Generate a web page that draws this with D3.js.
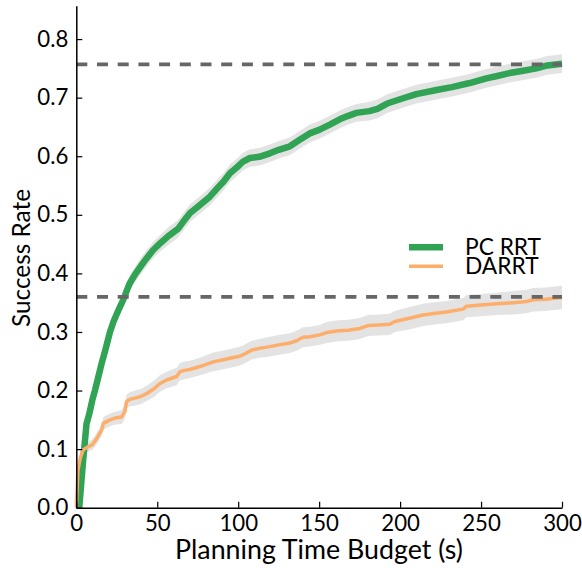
<!DOCTYPE html>
<html>
<head>
<meta charset="utf-8">
<script src="https://cdn.jsdelivr.net/npm/d3@7"></script>
<style>
  body { margin: 0; background: #fff; }
  svg text { font-family: Lato, "Noto Sans", sans-serif; fill: #000; }
</style>
</head>
<body>
<svg id="chart" width="582" height="568"></svg>
<script>
// [time (s), success rate, band half-width]
const pcRrt = [
  [1.8,0,0.003],[3,0.04,0.005],[4.2,0.08,0.006],[5.2,0.11,0.007],[6.3,0.143,0.008],[8,0.16,0.008],
  [10,0.185,0.009],[11.5,0.2,0.009],[13.5,0.222,0.01],[15.7,0.247,0.01],[18,0.27,0.011],[20.8,0.3,0.011],
  [23,0.318,0.012],[26,0.337,0.012],[28.5,0.352,0.012],[30,0.362,0.013],[31.5,0.373,0.013],[33,0.383,0.013],
  [36.2,0.398,0.013],[40,0.413,0.014],[43.5,0.426,0.014],[47.5,0.44,0.014],[52,0.452,0.014],[57,0.464,0.015],
  [62.8,0.476,0.015],[66,0.488,0.015],[70.3,0.503,0.015],[76,0.516,0.015],[82.5,0.531,0.015],[87,0.545,0.015],
  [91,0.557,0.015],[94.9,0.571,0.015],[100,0.583,0.015],[103,0.591,0.015],[107.2,0.597,0.015],[113,0.599,0.015],
  [119.6,0.605,0.015],[125,0.611,0.015],[131.9,0.617,0.015],[138,0.628,0.015],[144.2,0.639,0.015],[150,0.645,0.015],
  [156.6,0.654,0.015],[162.7,0.663,0.015],[168,0.669,0.015],[173,0.674,0.015],[181,0.677,0.016],[186,0.681,0.016],
  [192,0.69,0.016],[201.9,0.699,0.016],[210,0.706,0.016],[222.5,0.713,0.016],[232,0.718,0.016],[243,0.725,0.016],
  [253.3,0.733,0.016],[260,0.737,0.016],[267.7,0.742,0.016],[276,0.746,0.016],[284.2,0.75,0.016],[291,0.755,0.016],
  [300,0.758,0.016]
];
const darrt = [
  [0,0,0.002],[0.5,0.03,0.004],[1,0.064,0.005],[2.5,0.085,0.006],[4.3,0.099,0.007],[7.4,0.104,0.008],
  [10,0.108,0.009],[12.6,0.118,0.01],[15.7,0.133,0.01],[16.7,0.144,0.011],[20.8,0.15,0.011],[24,0.153,0.011],
  [28,0.155,0.012],[30,0.164,0.012],[31,0.181,0.012],[33,0.185,0.012],[36.2,0.187,0.013],[40,0.19,0.013],
  [43.5,0.195,0.013],[48,0.203,0.014],[51.7,0.212,0.014],[55.8,0.218,0.014],[62,0.224,0.015],[64,0.232,0.015],
  [66,0.234,0.015],[70,0.236,0.015],[76.4,0.241,0.015],[84.6,0.249,0.016],[90,0.252,0.016],[94.9,0.255,0.016],
  [100,0.258,0.016],[103,0.261,0.016],[108.3,0.269,0.016],[113,0.272,0.016],[119.6,0.275,0.017],[125,0.278,0.017],
  [131.9,0.281,0.017],[136,0.285,0.017],[140,0.291,0.017],[144.3,0.292,0.017],[150.4,0.295,0.017],[154.6,0.299,0.018],
  [162,0.302,0.018],[168,0.303,0.018],[175.1,0.306,0.018],[180.2,0.311,0.018],[187,0.312,0.018],[193.6,0.313,0.018],
  [196.7,0.318,0.018],[205,0.323,0.019],[214.2,0.329,0.019],[222,0.332,0.019],[228.6,0.334,0.019],[238.9,0.339,0.019],
  [241,0.344,0.019],[250,0.346,0.019],[259.5,0.348,0.019],[270,0.35,0.02],[278,0.352,0.02],[282.1,0.355,0.02],
  [290,0.356,0.02],[296.5,0.358,0.02],[300,0.359,0.02]
];
const refLevels = [0.757, 0.360];
const xTicks = [0, 50, 100, 150, 200, 250, 300];
const yTicks = [0.0, 0.1, 0.2, 0.3, 0.4, 0.5, 0.6, 0.7, 0.8];
const seriesNames = ["PC RRT", "DARRT"];

const fontFam = "Lato, 'Noto Sans', sans-serif";
const svg = d3.select("#chart");
const x = d3.scaleLinear().domain([0, 300]).range([76.3, 562]);
const y = d3.scaleLinear().domain([0, 0.857]).range([507.7, 5.7]);

// scale a text's font size so it spans the wanted width
function fitWidth(sel, width) {
  const node = sel.node();
  const size = parseFloat(sel.style("font-size"));
  const w = node.getComputedTextLength();
  if (w > 0) sel.style("font-size", (size * width / w).toFixed(2) + "px");
  return sel;
}

const series = [
  { name: seriesNames[0], data: pcRrt, color: "#31a354", width: 6.5 },
  { name: seriesNames[1], data: darrt, color: "#fdae6b", width: 3.5 }
];

// bands first
series.forEach(s => {
  const area = d3.area()
    .x(d => x(d[0]))
    .y0(d => y(d[1] - d[2]))
    .y1(d => y(d[1] + d[2]));
  svg.append("path").datum(s.data)
    .attr("d", area)
    .attr("fill", "#e3e3e3");
});

const line = d3.line().x(d => x(d[0])).y(d => y(d[1]));
series.forEach(s => {
  svg.append("path").datum(s.data)
    .attr("d", line)
    .attr("fill", "none")
    .attr("stroke", s.color)
    .attr("stroke-width", s.width)
    .attr("stroke-linejoin", "round");
});

// dashed reference levels
svg.selectAll(".ref").data(refLevels).enter().append("line")
  .attr("x1", x(0)).attr("x2", x(300))
  .attr("y1", d => y(d)).attr("y2", d => y(d))
  .attr("stroke", "#666")
  .attr("stroke-width", 3.8)
  .attr("stroke-dasharray", "11,9.7");

// tick font size from the width of "0.8" in the reference (~32px)
const probe = svg.append("text").style("font-family", fontFam).style("font-size", "24px").text("0.8");
fitWidth(probe, 31);
const tickSize = probe.style("font-size");
probe.remove();

// axes
const xAxis = d3.axisBottom(x).tickValues(xTicks).tickSizeInner(-6).tickSizeOuter(0).tickPadding(8)
  .tickFormat(d3.format("d"));
const yAxis = d3.axisLeft(y).tickValues(yTicks).tickSizeInner(-6).tickSizeOuter(0).tickPadding(8)
  .tickFormat(d3.format(".1f"));

const gx = svg.append("g").attr("transform", `translate(0,${y(0)})`).call(xAxis);
const gy = svg.append("g").attr("transform", `translate(${x(0)},0)`).call(yAxis);
[gx, gy].forEach(g => {
  g.attr("font-family", null).attr("font-size", null);
  g.select(".domain").attr("stroke", "#000").attr("stroke-width", 1.5);
  g.selectAll(".tick line").attr("stroke", "#000").attr("stroke-width", 1.2);
  g.selectAll(".tick text").style("font-size", tickSize).style("font-family", fontFam);
});

// axis labels
const xLabel = svg.append("text")
  .attr("x", 319).attr("y", 559)
  .attr("text-anchor", "middle")
  .style("font-family", fontFam)
  .style("font-size", "24px")
  .text("Planning Time Budget (s)");
fitWidth(xLabel, 288);
const yLabel = svg.append("text")
  .attr("transform", "translate(30,258) rotate(-90)")
  .attr("text-anchor", "middle")
  .style("font-family", fontFam)
  .style("font-size", "24px")
  .text("Success Rate");
fitWidth(yLabel, 138);

// legend
const legend = svg.append("g");
series.forEach((s, i) => {
  const ly = 247.3 + i * 19;
  legend.append("line")
    .attr("x1", 409).attr("x2", 443)
    .attr("y1", ly).attr("y2", ly)
    .attr("stroke", s.color)
    .attr("stroke-width", s.width);
  const t = legend.append("text")
    .attr("x", 465).attr("y", ly + 8)
    .style("font-family", fontFam)
    .style("font-size", "20px")
    .text(s.name);
  if (i === 0) fitWidth(t, 76);
});
legend.selectAll("text").style("font-size", legend.select("text").style("font-size"));
</script>
</body>
</html>
